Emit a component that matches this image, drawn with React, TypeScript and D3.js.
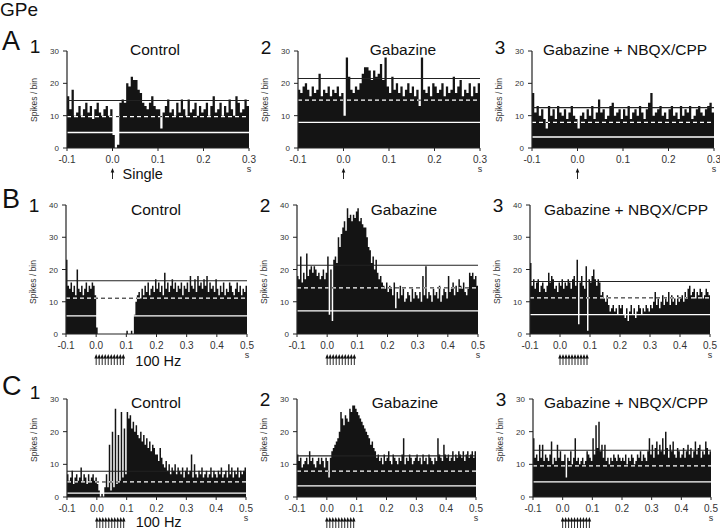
import React from "react";
import * as d3 from "d3";

// conditions / labels
const conditions = ["Control", "Gabazine", "Gabazine + NBQX/CPP"];
const rowLetters = ["A", "B", "C"];
const xTicksSingle = [-0.1, 0, 0.1, 0.2, 0.3];
const xTicksTrain = [-0.1, 0, 0.1, 0.2, 0.3, 0.4, 0.5];
const yTicks30 = [0, 10, 20, 30];
const yTicks40 = [0, 10, 20, 30, 40];
const singlePulse = [0];
const trainPulses = [0, 0.01, 0.02, 0.03, 0.04, 0.05, 0.06, 0.07, 0.08, 0.09];

// spike counts, 5 ms bins, one line per 0.1 s
const a1Control = [
  16, 12, 18, 10, 11, 13, 10, 12, 14, 11, 13, 9, 12, 14, 11, 10, 12, 13, 10, 12,
  4, 0, 1, 14, 15, 14, 20, 19, 22, 21, 21, 18, 17, 14, 13, 12, 14, 16, 13, 12,
  12, 6, 11, 13, 15, 11, 12, 10, 14, 11, 15, 12, 10, 15, 11, 12, 14, 10, 13, 11,
  12, 14, 10, 13, 16, 11, 12, 14, 10, 13, 11, 15, 12, 10, 16, 14, 11, 12, 15, 13,
];
const a2Gabazine = [
  18, 17, 19, 20, 18, 16, 19, 17, 18, 23, 16, 18, 17, 19, 16, 18, 17, 19, 16, 17,
  10, 28, 22, 18, 17, 19, 18, 20, 23, 25, 25, 24, 21, 24, 22, 23, 26, 21, 28, 19,
  17, 22, 18, 20, 17, 19, 16, 18, 20, 17, 19, 16, 18, 13, 28, 18, 17, 19, 16, 20,
  19, 17, 18, 20, 16, 19, 17, 18, 22, 17, 19, 21, 16, 18, 17, 20, 16, 19, 17, 20,
];
const a3Blockers = [
  17, 11, 13, 10, 12, 9, 6, 13, 10, 12, 9, 13, 11, 10, 12, 9, 11, 13, 10, 9,
  6, 10, 11, 9, 12, 10, 13, 9, 11, 15, 11, 12, 9, 10, 13, 14, 10, 11, 12, 9,
  12, 10, 13, 9, 11, 12, 10, 13, 11, 9, 12, 14, 17, 10, 11, 12, 13, 10, 11, 9,
  12, 13, 10, 11, 9, 13, 10, 12, 11, 13, 9, 10, 12, 13, 11, 10, 12, 13, 14, 11,
];
const b1Control = [
  23, 15, 14, 16, 13, 15, 12, 20, 14, 13, 15, 12, 14, 16, 13, 15, 14, 16, 15, 12,
  2, 0, 0, 0, 0, 0, 0, 0, 0, 0, 0, 0, 0, 0, 0, 0, 0, 0, 0, 0,
  1, 0, 0, 1, 0, 6, 10, 12, 13, 11, 14, 12, 15, 13, 16, 12, 14, 15, 13, 17,
  14, 16, 13, 15, 12, 19, 14, 16, 13, 15, 17, 14, 16, 13, 15, 14, 16, 12, 15, 14,
  16, 13, 18, 15, 14, 17, 13, 18, 15, 16, 14, 17, 15, 18, 13, 16, 14, 15, 13, 17,
  14, 12, 15, 13, 16, 12, 14, 13, 16, 15, 13, 12, 14, 16, 13, 15, 12, 14, 13, 15,
];
const b2Gabazine = [
  18, 17, 24, 16, 19, 17, 25, 18, 20, 21, 19, 21, 20, 18, 19, 17, 18, 20, 17, 19,
  24, 6, 20, 4, 23, 24, 22, 30, 27, 31, 33, 35, 32, 39, 36, 37, 35, 37, 36, 38,
  39, 35, 36, 34, 33, 33, 30, 27, 26, 22, 24, 20, 23, 19, 17, 18, 16, 15, 14, 16,
  13, 15, 14, 12, 16, 8, 13, 11, 15, 12, 14, 10, 11, 13, 12, 10, 14, 11, 13, 12,
  11, 13, 10, 18, 12, 21, 11, 13, 12, 10, 14, 12, 13, 11, 15, 10, 12, 14, 13, 11,
  18, 13, 14, 16, 12, 15, 13, 17, 15, 14, 16, 13, 12, 14, 19, 18, 19, 17, 18, 15,
];
const b3Blockers = [
  22, 15, 17, 14, 16, 17, 13, 15, 16, 14, 13, 15, 19, 16, 18, 17, 14, 15, 13, 16,
  15, 17, 14, 16, 15, 17, 16, 14, 17, 18, 15, 23, 3, 16, 18, 15, 14, 21, 1, 17,
  16, 18, 20, 17, 15, 17, 16, 12, 13, 11, 10, 12, 9, 7, 8, 9, 7, 8, 6, 9,
  8, 9, 6, 5, 8, 4, 7, 9, 6, 8, 5, 7, 9, 8, 6, 8, 7, 9, 8, 7,
  9, 8, 10, 13, 9, 11, 8, 10, 12, 9, 11, 10, 13, 9, 12, 10, 11, 9, 12, 10,
  11, 12, 10, 13, 11, 14, 15, 12, 13, 14, 11, 13, 12, 14, 13, 11, 12, 14, 13, 12,
];
const c1Control = [
  7, 5, 6, 8, 4, 6, 7, 5, 6, 9, 5, 7, 6, 4, 7, 5, 6, 7, 5, 6,
  4, 2, 0, 1, 0, 3, 7, 3, 16, 2, 20, 3, 27, 4, 19, 5, 26, 6, 21, 7,
  26, 24, 25, 21, 23, 20, 22, 19, 18, 20, 17, 19, 16, 18, 15, 17, 14, 16, 15, 13,
  13, 11, 15, 12, 10, 9, 11, 8, 10, 7, 9, 8, 10, 7, 9, 8, 7, 9, 6, 8,
  9, 7, 8, 13, 6, 10, 7, 6, 8, 7, 9, 6, 7, 8, 6, 7, 9, 6, 8, 7,
  6, 8, 7, 9, 6, 7, 8, 6, 10, 7, 9, 6, 8, 7, 9, 6, 8, 7, 8, 9,
];
const c2Gabazine = [
  13, 11, 12, 9, 10, 11, 12, 10, 14, 11, 12, 10, 9, 11, 12, 10, 12, 11, 9, 12,
  11, 6, 12, 14, 15, 16, 17, 18, 20, 26, 24, 22, 25, 24, 23, 27, 26, 28, 28, 27,
  26, 25, 24, 23, 22, 21, 20, 19, 18, 16, 17, 15, 14, 12, 13, 11, 12, 10, 13, 11,
  12, 14, 11, 10, 13, 12, 11, 10, 12, 11, 13, 18, 10, 12, 11, 13, 12, 10, 11, 12,
  13, 11, 12, 10, 13, 11, 12, 10, 13, 12, 11, 10, 12, 11, 18, 13, 12, 11, 16, 13,
  12, 13, 11, 12, 14, 11, 13, 12, 14, 13, 12, 14, 11, 13, 14, 12, 13, 14, 12, 14,
];
const c3Blockers = [
  18, 12, 13, 11, 16, 12, 16, 11, 13, 12, 11, 13, 17, 10, 12, 11, 16, 12, 14, 11,
  11, 13, 6, 12, 11, 14, 10, 12, 18, 11, 12, 10, 11, 12, 10, 11, 14, 13, 12, 11,
  18, 13, 22, 15, 23, 14, 16, 12, 16, 11, 12, 10, 12, 11, 13, 12, 11, 13, 12, 11,
  12, 11, 13, 10, 12, 11, 13, 12, 10, 11, 13, 12, 14, 11, 13, 12, 11, 14, 18, 13,
  16, 12, 15, 17, 13, 16, 14, 18, 13, 20, 15, 12, 16, 14, 17, 13, 12, 15, 14, 12,
  13, 15, 12, 14, 16, 13, 15, 12, 14, 17, 13, 15, 16, 12, 14, 13, 17, 15, 13, 14,
];

// mean + 2SD, mean, mean - 2SD (panel order A1..C3)
const upperLevels = [14.7, 21.5, 12.5, 16.5, 21.3, 16.3, 7.9, 12.6, 14.3];
const meanLevels = [9.7, 14.8, 7.9, 11.1, 14.3, 11.2, 4.6, 7.9, 9.5];
const lowerLevels = [4.8, 7.9, 3.4, 5.6, 7.2, 6.0, 1.2, 3.4, 4.6];

const FONT = "'Liberation Sans', Arial, Helvetica, sans-serif";

const rows = [
  { letter: rowLetters[0], letterY: 50, numY: [53, 54, 54], titleY: 55, top: 51, bottom: 148, yMax: 30, yTicks: yTicks30, xTicks: xTicksSingle, end: 0.3, labelY: 100, pulses: singlePulse, stimText: "Single", stimY: 31 },
  { letter: rowLetters[1], letterY: 208, numY: [212, 212, 212], titleY: 215, top: 205, bottom: 334, yMax: 40, yTicks: yTicks40, xTicks: xTicksTrain, end: 0.5, labelY: 282, pulses: trainPulses, stimText: "100 Hz", stimY: 32 },
  { letter: rowLetters[2], letterY: 395, numY: [399, 406, 406], titleY: 408, top: 399, bottom: 497, yMax: 30, yTicks: yTicks30, xTicks: xTicksTrain, end: 0.5, labelY: 440, pulses: trainPulses, stimText: "100 Hz", stimY: 29.5 },
];

const cols = [
  [{ left: 67, right: 249, titleX: 155 }, { left: 298, right: 480, titleX: 403 }, { left: 532, right: 714, titleX: 625 }],
  [{ left: 66, right: 247, titleX: 156 }, { left: 297, right: 478, titleX: 404 }, { left: 530, right: 710, titleX: 626 }],
  [{ left: 67, right: 246, titleX: 156 }, { left: 297, right: 476, titleX: 405 }, { left: 533, right: 711, titleX: 626 }],
];

const panelCounts = [
  [a1Control, a2Gabazine, a3Blockers],
  [b1Control, b2Gabazine, b3Blockers],
  [c1Control, c2Gabazine, c3Blockers],
];

function Histogram({ id, counts, row, col, ci, idx, num }: any) {
  const start = -0.1;
  const end = row.end;
  const x = d3.scaleLinear().domain([start, end]).range([col.left, col.right]);
  const y = d3.scaleLinear().domain([0, row.yMax]).range([row.bottom, row.top]);
  const bw = (end - start) / counts.length;
  const pts: [number, number][] = counts.map((c: number, i: number) => [start + i * bw, c]);
  pts.push([end, counts[counts.length - 1]]);
  const area = d3
    .area<[number, number]>()
    .curve(d3.curveStepAfter)
    .x((d) => x(d[0]))
    .y0(y(0))
    .y1((d) => y(d[1]));
  const barPath = area(pts) || "";
  const y0 = y(0);
  const fmt = (v: number) => v.toFixed(1);

  return (
    <g>
      <defs>
        <clipPath id={`bars-${id}`}>
          <path d={barPath} />
        </clipPath>
      </defs>
      {/* mean line, black where it is above the bars */}
      <line x1={x(start)} x2={x(end)} y1={y(meanLevels[idx])} y2={y(meanLevels[idx])} stroke="#111" strokeWidth={1} strokeDasharray="4,3" />
      <path d={barPath} fill="#141414" />
      <line x1={x(start)} x2={x(end)} y1={y(meanLevels[idx])} y2={y(meanLevels[idx])} stroke="#fff" strokeWidth={1.2} strokeDasharray="4,3" clipPath={`url(#bars-${id})`} />
      <line x1={x(start)} x2={x(end)} y1={y(lowerLevels[idx])} y2={y(lowerLevels[idx])} stroke="#fff" strokeWidth={1.3} />
      <line x1={x(start)} x2={x(end)} y1={y(upperLevels[idx])} y2={y(upperLevels[idx])} stroke="#222" strokeWidth={1.1} />

      {/* y axis */}
      <line x1={col.left} x2={col.left} y1={y0} y2={y(row.yMax)} stroke="#222" strokeWidth={1.2} />
      {row.yTicks.map((t: number) => (
        <g key={t}>
          <line x1={col.left - 4} x2={col.left} y1={y(t)} y2={y(t)} stroke="#222" strokeWidth={1} />
          <text x={col.left - 8} y={y(t) + 3} fontSize={8} textAnchor="end" fill="#333" fontFamily={FONT}>{t}</text>
        </g>
      ))}
      <text transform={`translate(${col.left - 30},${row.labelY}) rotate(-90)`} fontSize={8.5} textAnchor="middle" fill="#333" fontFamily={FONT}>Spikes / bin</text>

      {/* x axis */}
      <line x1={x(start)} x2={x(end)} y1={y0} y2={y0} stroke="#222" strokeWidth={1.2} />
      {row.xTicks.map((t: number) => (
        <g key={t}>
          <line x1={x(t)} x2={x(t)} y1={y0} y2={y0 + 3} stroke="#222" strokeWidth={1} />
          <text x={x(t)} y={y0 + 15} fontSize={10} textAnchor="middle" fill="#333" fontFamily={FONT}>{fmt(t)}</text>
        </g>
      ))}
      <text x={x(end)} y={y0 + 24} fontSize={9} textAnchor="middle" fill="#333" fontFamily={FONT}>s</text>

      {/* stimulus */}
      {row.pulses.map((p: number) => (
        <g key={p}>
          <line x1={x(p)} x2={x(p)} y1={y0 + 31} y2={y0 + 22} stroke="#111" strokeWidth={0.9} />
          <path d={`M${x(p)},${y0 + 20}L${x(p) - 1.8},${y0 + 24.5}L${x(p) + 1.8},${y0 + 24.5}Z`} fill="#111" />
        </g>
      ))}
      {ci === 0 && (
        <text x={x(row.pulses[row.pulses.length - 1]) + (row.pulses.length > 1 ? 12 : 10)} y={y0 + row.stimY} fontSize={14.5} fill="#111" fontFamily={FONT}>{row.stimText}</text>
      )}

      {/* title and number */}
      <text x={col.titleX} y={row.titleY} fontSize={15.5} textAnchor="middle" fill="#111" fontFamily={FONT}>{conditions[ci]}</text>
      <text x={col.left - 32} y={num} fontSize={19} textAnchor="middle" fill="#111" fontFamily={FONT}>{ci + 1}</text>
    </g>
  );
}

export default function App() {
  return (
    <svg width={720} height={530} style={{ position: "absolute", left: 0, top: 0, background: "#fff" }}>
      <rect width={720} height={530} fill="#fff" />
      <text x={0} y={16} fontSize={19} fill="#111" fontFamily={FONT}>GPe</text>
      {rows.map((row, ri) => (
        <g key={ri}>
          <text x={2} y={row.letterY} fontSize={27} fill="#111" fontFamily={FONT}>{row.letter}</text>
          {cols[ri].map((col, ci) => (
            <Histogram
              key={ci}
              id={`p${ri}${ci}`}
              counts={panelCounts[ri][ci]}
              row={row}
              col={col}
              ci={ci}
              idx={ri * 3 + ci}
              num={row.numY[ci]}
            />
          ))}
        </g>
      ))}
    </svg>
  );
}
